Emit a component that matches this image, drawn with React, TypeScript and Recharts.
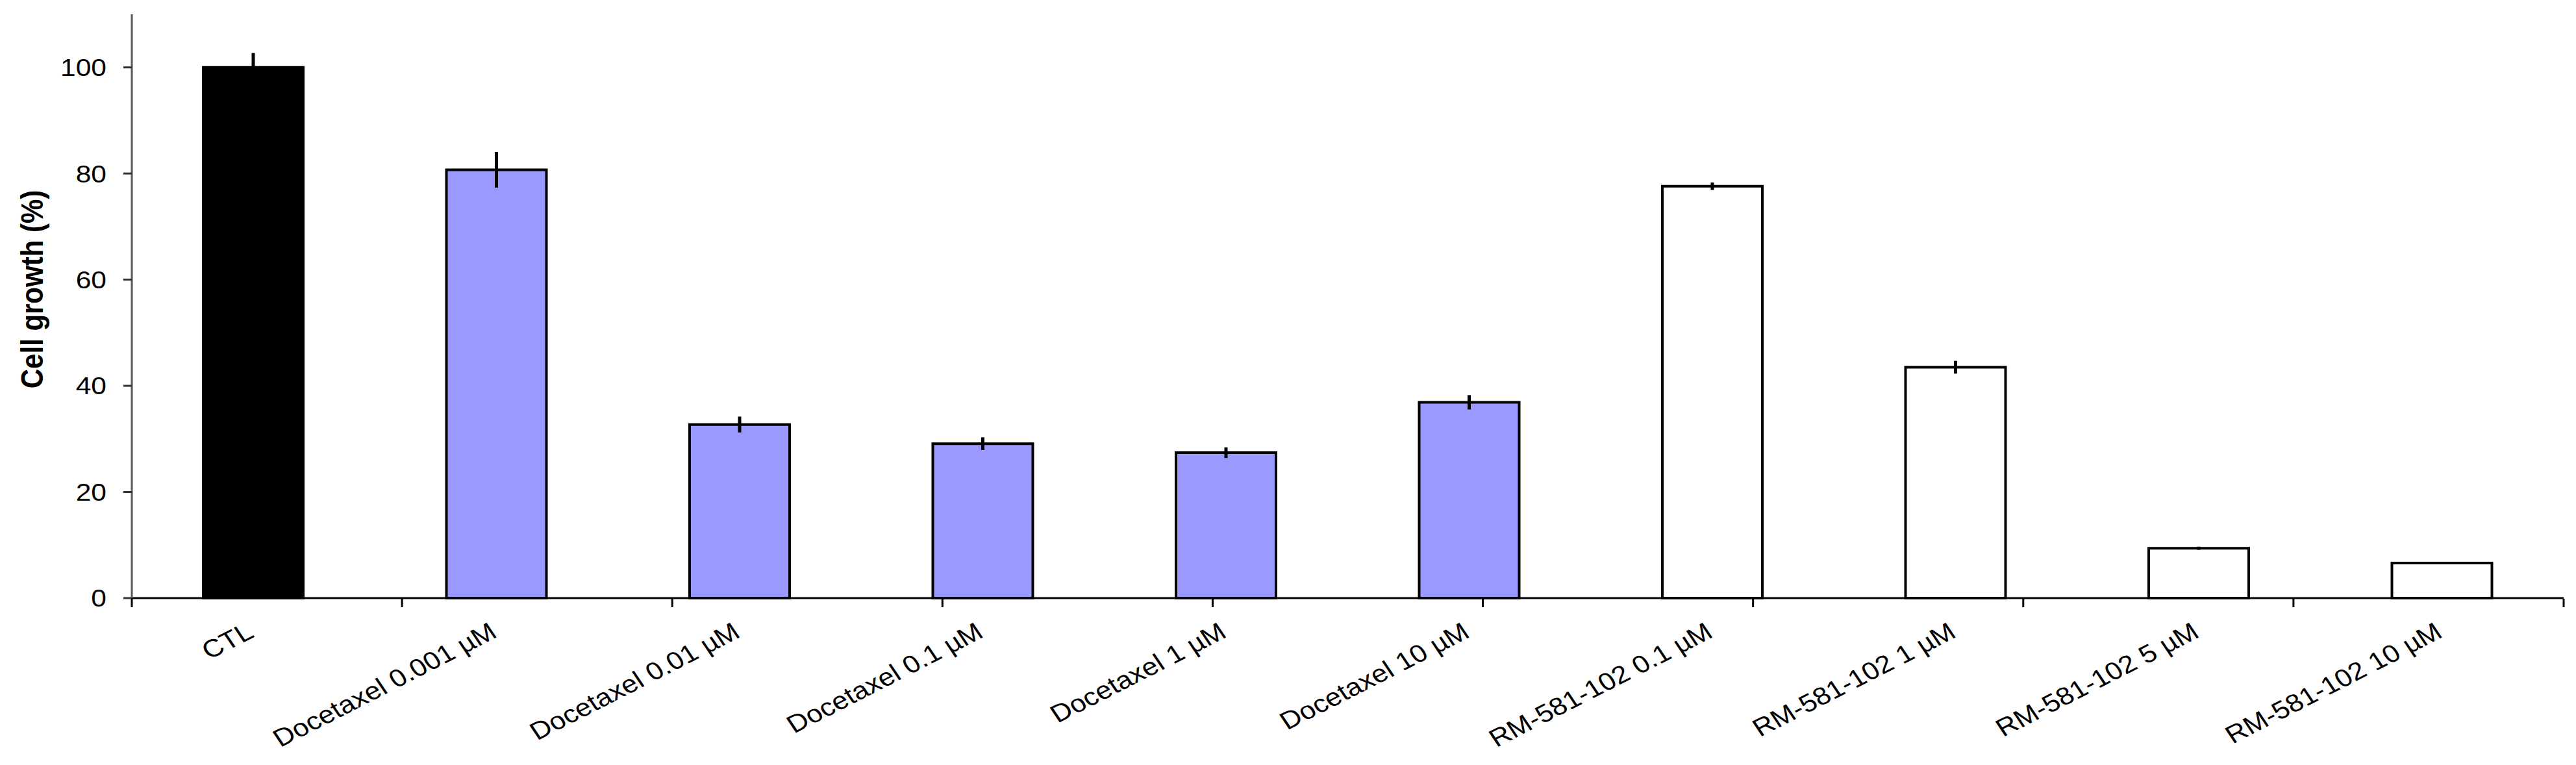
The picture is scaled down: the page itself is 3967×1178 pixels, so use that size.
import React from "react";
import { BarChart, Bar, XAxis, YAxis, ErrorBar, Cell } from "recharts";

const categories = [
  "CTL",
  "Docetaxel 0.001 µM",
  "Docetaxel 0.01 µM",
  "Docetaxel 0.1 µM",
  "Docetaxel 1 µM",
  "Docetaxel 10 µM",
  "RM-581-102 0.1 µM",
  "RM-581-102 1 µM",
  "RM-581-102 5 µM",
  "RM-581-102 10 µM",
];
const growth = [100, 80.7, 32.7, 29.1, 27.4, 36.9, 77.6, 43.5, 9.4, 6.6];
const errors = [2.7, 3.35, 1.5, 1.2, 1.0, 1.35, 0.7, 1.2, 0.3, 0.2];
const groups = ["ctl", "doc", "doc", "doc", "doc", "doc", "rm", "rm", "rm", "rm"];
const yTicks = [0, 20, 40, 60, 80, 100];
const edgeTicks = [0, 1, 2, 3, 4, 5, 6, 7, 8, 9, 10];

const groupFill: Record<string, string> = {
  ctl: "#000000",
  doc: "#9999ff",
  rm: "#ffffff",
};

const FONT = "'Liberation Sans', Arial, sans-serif";
const STRETCH = 1.15; // the picture is a bit wider than tall

const data = categories.map((name, i) => ({
  name,
  growth: growth[i],
  err: errors[i],
  group: groups[i],
}));

function YTick({ x, y, payload }: any) {
  return (
    <text
      transform={`translate(${x},${y}) scale(${STRETCH},1)`}
      textAnchor="end"
      dy="0.36em"
      fontSize={37}
      fontFamily={FONT}
      fill="#000"
    >
      {payload.value}
    </text>
  );
}

function XTick({ x, y, payload }: any) {
  return (
    <text
      transform={`translate(${x + 3},${y + 59}) scale(${STRETCH},1) rotate(-30.4)`}
      textAnchor="end"
      fontSize={38}
      fontFamily={FONT}
      fill="#000"
    >
      {payload.value}
    </text>
  );
}

// only the small tick marks between categories, no text
function EdgeTick({ x, y }: any) {
  return <line x1={x} x2={x} y1={y - 12} y2={y + 1} stroke="#000" strokeWidth={3} />;
}

function YLabel({ viewBox }: any) {
  const cx = viewBox.x + 49;
  const cy = viewBox.y + viewBox.height / 2 - 26;
  return (
    <text
      transform={`translate(${cx},${cy}) scale(${STRETCH},1) rotate(-90)`}
      textAnchor="middle"
      dy="0.35em"
      fontSize={42}
      fontWeight="bold"
      fontFamily={FONT}
      fill="#000"
    >
      Cell growth (%)
    </text>
  );
}

export default function App() {
  return (
    <div style={{ background: "#fff" }}>
      <style>{"body{margin:0}"}</style>
      <BarChart
        width={3967}
        height={1178}
        data={data}
        margin={{ top: 22, right: 19, left: 0, bottom: 255 }}
      >
        <XAxis
          xAxisId="cat"
          dataKey="name"
          interval={0}
          height={1}
          tickSize={0}
          tickMargin={0}
          tickLine={false}
          axisLine={{ stroke: "#000", strokeWidth: 3 }}
          tick={<XTick />}
        />
        <XAxis
          xAxisId="edges"
          type="number"
          domain={[0, 10]}
          ticks={edgeTicks}
          interval={0}
          allowDataOverflow
          tick={<EdgeTick />}
          tickSize={12}
          tickMargin={0}
          tickLine={false}
          axisLine={false}
          height={1}
        />
        <YAxis
          width={203}
          domain={[0, 110]}
          ticks={yTicks}
          tickSize={13}
          tickMargin={26}
          tickLine={{ stroke: "#333", strokeWidth: 3 }}
          axisLine={{ stroke: "#555", strokeWidth: 3 }}
          tick={<YTick />}
          label={{ content: (p: any) => <YLabel {...p} /> }}
        />
        <Bar
          xAxisId="cat"
          dataKey="growth"
          barSize={154}
          stroke="#000"
          strokeWidth={4}
          isAnimationActive={false}
        >
          {data.map((d) => (
            <Cell key={d.name} fill={groupFill[d.group]} />
          ))}
          <ErrorBar
            dataKey="err"
            direction="y"
            width={0}
            stroke="#000"
            strokeWidth={5}
            isAnimationActive={false}
          />
        </Bar>
      </BarChart>
    </div>
  );
}
